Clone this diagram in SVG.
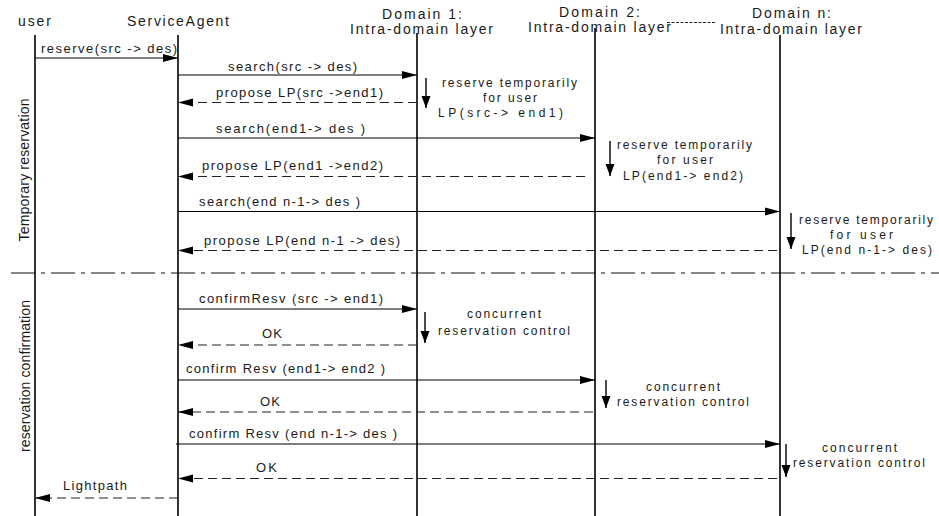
<svg xmlns="http://www.w3.org/2000/svg" width="939" height="516" viewBox="0 0 939 516">
  <style>
    text { font-family: "Liberation Sans", Arial, sans-serif; fill: #1a1a1a; }
    .hdr { font-size: 14px; }
    .msg { font-size: 13px; }
    .note { font-size: 12px; }
    .phase { font-size: 14px; }
    .life { stroke: #000; stroke-width: 1.6; fill: none; }
    .call { stroke: #000; stroke-width: 1.2; fill: none; marker-end: url(#head); }
    .reply { stroke: #222; stroke-width: 1.2; fill: none; stroke-dasharray: 9 5; marker-end: url(#head); }
    .down { stroke: #000; stroke-width: 1.4; fill: none; marker-end: url(#dhead); }
    .sep { stroke: #111; stroke-width: 1.2; fill: none; stroke-dasharray: 24 6 4 6; }
  </style>
  <defs>
    <marker id="head" markerUnits="userSpaceOnUse" markerWidth="16" markerHeight="9" refX="15" refY="4" orient="auto" overflow="visible">
      <path d="M0,0 L15,4 L0,8 z" fill="#000"/>
    </marker>
    <marker id="dhead" markerUnits="userSpaceOnUse" markerWidth="12" markerHeight="10" refX="12" refY="4.5" orient="auto" overflow="visible">
      <path d="M0,0 L12,4.5 L0,9 z" fill="#000"/>
    </marker>
  </defs>

  <rect width="939" height="516" fill="#fff"/>

  <!-- participants -->
  <g id="user">
    <text class="hdr" x="18" y="26" textLength="33">user</text>
    <line class="life" x1="35" y1="35" x2="35" y2="516"/>
  </g>
  <g id="service-agent">
    <text class="hdr" x="127" y="26" textLength="102">ServiceAgent</text>
    <line class="life" x1="178" y1="35" x2="178" y2="516"/>
  </g>
  <g id="domain-1">
    <text class="hdr" x="382" y="19" textLength="80">Domain 1:</text>
    <text class="hdr" x="350" y="34" textLength="143">Intra-domain layer</text>
    <line class="life" x1="417" y1="33" x2="417" y2="516"/>
  </g>
  <g id="domain-2">
    <text class="hdr" x="559" y="16.5" textLength="81">Domain 2:</text>
    <text class="hdr" x="528" y="31.5" textLength="143">Intra-domain layer</text>
    <line class="life" x1="595" y1="28" x2="595" y2="516"/>
  </g>
  <g id="domain-ellipsis">
    <line x1="667" y1="22.5" x2="716" y2="22.5" stroke="#222" stroke-width="1" stroke-dasharray="3 1.5"/>
  </g>
  <g id="domain-n">
    <text class="hdr" x="752" y="17.5" textLength="79">Domain n:</text>
    <text class="hdr" x="720" y="34" textLength="142">Intra-domain layer</text>
    <line class="life" x1="780" y1="35" x2="780" y2="516"/>
  </g>

  <!-- phase labels and separator -->
  <g id="phases">
    <text class="phase" transform="translate(28.5,170) rotate(-90)" text-anchor="middle" textLength="143">Temporary reservation</text>
    <text class="phase" transform="translate(30,376) rotate(-90)" text-anchor="middle" textLength="152">reservation confirmation</text>
    <line class="sep" x1="11" y1="273" x2="939" y2="273"/>
  </g>

  <!-- messages -->
  <g id="connectors">
    <line class="call" x1="35" y1="58" x2="178" y2="58"/>
    <line class="call" x1="178" y1="75" x2="417" y2="75"/>
    <line class="reply" x1="417" y1="102.5" x2="178" y2="102.5"/>
    <line class="call" x1="178" y1="138" x2="595" y2="138"/>
    <line class="reply" x1="585" y1="176.5" x2="178" y2="176.5"/>
    <line class="call" x1="178" y1="211.5" x2="780" y2="211.5"/>
    <line class="reply" x1="777" y1="250.5" x2="178" y2="250.5"/>

    <line class="call" x1="178" y1="309" x2="417" y2="309"/>
    <line class="reply" x1="417" y1="345" x2="178" y2="345"/>
    <line class="call" x1="178" y1="380" x2="595" y2="380"/>
    <line class="reply" x1="593" y1="412" x2="178" y2="412"/>
    <line class="call" x1="176" y1="444" x2="780" y2="444"/>
    <line class="reply" x1="777" y1="478.5" x2="178" y2="478.5"/>
    <line class="reply" x1="178" y1="498" x2="35" y2="498"/>
  </g>

  <g id="message-labels">
    <text class="msg" x="41" y="53" textLength="136">reserve(src -&gt; des)</text>
    <text class="msg" x="228" y="70.5" textLength="129">search(src -&gt; des)</text>
    <text class="msg" x="216" y="96.5" textLength="167">propose LP(src -&gt;end1)</text>
    <text class="msg" x="216" y="132.5" textLength="149">search(end1-&gt; des )</text>
    <text class="msg" x="202" y="169.5" textLength="181">propose LP(end1 -&gt;end2)</text>
    <text class="msg" x="199" y="205.5" textLength="161">search(end n-1-&gt; des )</text>
    <text class="msg" x="204" y="244.5" textLength="196">propose LP(end n-1 -&gt; des)</text>

    <text class="msg" x="199" y="302.5" textLength="184">confirmResv (src -&gt; end1)</text>
    <text class="msg" x="262" y="337.5" textLength="20">OK</text>
    <text class="msg" x="186" y="373" textLength="199">confirm Resv (end1-&gt; end2 )</text>
    <text class="msg" x="260" y="406" textLength="20">OK</text>
    <text class="msg" x="189" y="438" textLength="208">confirm Resv (end n-1-&gt; des )</text>
    <text class="msg" x="256" y="472" textLength="21">OK</text>
    <text class="msg" x="63" y="490" textLength="64">Lightpath</text>
  </g>

  <!-- local actions inside each domain -->
  <g id="note-reserve-1">
    <line class="down" x1="426" y1="78" x2="426" y2="108"/>
    <text class="note" x="442" y="87" textLength="135">reserve temporarily</text>
    <text class="note" x="483" y="101.5" textLength="54">for user</text>
    <text class="note" x="438" y="117" textLength="125">LP(src-&gt; end1)</text>
  </g>
  <g id="note-reserve-2">
    <line class="down" x1="610" y1="141" x2="610" y2="176"/>
    <text class="note" x="617" y="149" textLength="135">reserve temporarily</text>
    <text class="note" x="657" y="164" textLength="56">for user</text>
    <text class="note" x="623" y="180" textLength="120">LP(end1-&gt; end2)</text>
  </g>
  <g id="note-reserve-n">
    <line class="down" x1="791" y1="213" x2="791" y2="249"/>
    <text class="note" x="799" y="224" textLength="134">reserve temporarily</text>
    <text class="note" x="830" y="238.5" textLength="63">for user</text>
    <text class="note" x="802" y="254" textLength="130">LP(end n-1-&gt; des)</text>
  </g>
  <g id="note-confirm-1">
    <line class="down" x1="425" y1="312" x2="425" y2="343"/>
    <text class="note" x="467" y="318" textLength="74">concurrent</text>
    <text class="note" x="438" y="335" textLength="132">reservation control</text>
  </g>
  <g id="note-confirm-2">
    <line class="down" x1="606" y1="380" x2="606" y2="408"/>
    <text class="note" x="646" y="391" textLength="74">concurrent</text>
    <text class="note" x="617" y="405.5" textLength="132">reservation control</text>
  </g>
  <g id="note-confirm-n">
    <line class="down" x1="786" y1="444" x2="786" y2="477"/>
    <text class="note" x="822" y="452" textLength="75">concurrent</text>
    <text class="note" x="793" y="467" textLength="132">reservation control</text>
  </g>
</svg>
